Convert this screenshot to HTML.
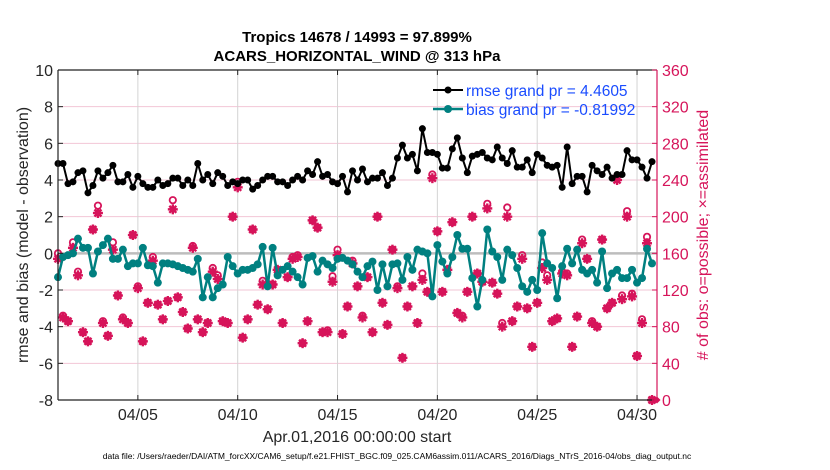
<!DOCTYPE html>
<html><head><meta charset="utf-8"><style>
body{margin:0;background:#fff;}
svg{display:block;font-family:"Liberation Sans",sans-serif;}
</style></head><body>
<svg id="chart" width="830" height="470"></svg>
<script>
const rmse=[4.9,4.9,3.8,3.9,4.4,4.5,3.3,3.7,4.5,4.1,4.4,4.8,3.9,3.9,4.3,3.6,
4.2,3.8,3.6,3.6,4.0,3.7,3.8,4.1,4.1,3.7,4.0,3.7,4.9,4.0,4.3,3.8,4.4,4.2,3.7,3.9,
3.8,4.0,4.0,3.5,3.7,4.0,4.2,4.2,3.9,3.9,3.7,
4.0,4.2,4.0,4.5,4.3,5.0,4.2,4.3,3.9,3.8,4.2,3.35,4.5,4.0,4.6,3.9,4.1,4.1,4.4,3.7,4.1,
5.2,5.9,5.2,5.4,4.5,6.8,5.5,5.5,5.4,4.65,4.65,5.7,6.3,5.2,4.4,5.3,5.4,
5.5,5.2,5.1,5.8,5.2,4.9,5.6,4.7,4.7,5.1,4.4,5.4,5.2,4.8,4.7,4.8,3.6,5.8,3.8,4.2,4.2,3.35,4.8,4.5,4.3,4.7,4.1,4.3,4.3,5.6,5.1,5.1,4.7,4.1,5.0];
const bias=[-1.3,-0.2,-0.1,0,0.8,0.3,0.3,-1.1,0.1,0.45,0.8,-0.3,-0.3,0.2,-0.7,-0.55,-0.55,0.3,-0.65,-0.7,-1.6,-0.55,-0.55,-0.6,-0.7,-0.8,-0.9,-1.0,-0.3,-2.4,-1.3,-2.4,-1.9,-1.7,-0.2,-0.7,-1.1,-0.9,-0.9,-0.8,-0.6,
0.35,-1.8,0.3,-1.2,-0.9,-0.7,-1.0,-1.3,-1.7,-0.25,-0.15,-1.0,-0.4,-0.6,-0.8,-0.3,-0.25,-0.4,-0.6,-1.0,-1.3,
-0.7,-0.45,-2.0,-0.6,-1.8,-0.6,-0.55,-1.45,-0.2,-0.9,0.2,0.1,0.0,-2.35,0.45,-0.45,-1.1,-0.2,1.0,0.25,0.25,-1.35,-2.9,-1.45,
1.3,0.1,-0.2,-1.45,0.2,-0.1,-0.8,-1.8,-2.1,-1.45,-2.0,1.1,-0.55,-0.8,-2.45,-0.7,0.25,-0.55,0.2,-0.9,-1.1,-0.9,-1.6,0.1,-1.9,-1.1,-0.9,-1.35,-1.35,-0.9,-1.6,-1.35,0.25,-0.55];
const nAssim=[154,90,86,166,136,74,64,186,204,84,70,164,114,88,84,180,122,64,106,152,104,88,108,208,112,96,78,166,88,74,84,140,132,86,84,200,232,68,88,186,104,126,99,126,142,84,134,154,
156,62,86,196,188,74,74,129,158,72,102,149,124,
90,134,74,
200,106,82,164,122,46,102,124,84,131,118,242,184,118,142,194,95,90,118,200,138,129,
209,128,116,80,200,86,102,154,100,58,106,144,131,86,89,138,136,58,91,171,154,84,80,175,100,106,240,110,200,113,48,84,171,0];
const nPoss=[160,92,86,172,140,74,64,186,212,86,70,172,114,90,84,180,124,64,106,156,104,88,108,218,112,96,78,168,88,74,84,144,136,86,84,200,238,68,88,186,104,130,99,126,142,84,134,156,
158,62,86,196,188,74,76,135,164,72,102,152,124,
92,134,74,
200,106,82,164,124,46,102,124,84,138,118,246,184,118,142,194,95,92,118,200,138,129,
214,128,116,84,210,86,102,158,100,58,106,150,136,86,89,140,138,58,91,175,154,86,80,175,100,106,244,114,206,116,48,88,178,0];
const dateTicks=["04/05","04/10","04/15","04/20","04/25","04/30"];
const dateTickDays=[4,9,14,19,24,29];
const leftTicks=[10,8,6,4,2,0,-2,-4,-6,-8];
const rightTicks=[360,320,280,240,200,160,120,80,40,0];

const NS="http://www.w3.org/2000/svg";
const svg=document.getElementById('chart');
const X0=58,X1=657,Y0=70,Y1=400,DAYS=30;
const xs=d=>X0+(X1-X0)*d/DAYS;
const yL=v=>Y0+(10-v)*(Y1-Y0)/18;
const yR=n=>Y1-n*(Y1-Y0)/360;
function el(tag,attrs,parent){const e=document.createElementNS(NS,tag);for(const k in attrs)e.setAttribute(k,attrs[k]);(parent||svg).appendChild(e);return e;}
function txt(s,attrs){const t=el('text',attrs);t.textContent=s;return t;}

const grid=el('g',{});


leftTicks.forEach(v=>{el('line',{x1:X0,x2:X1,y1:yL(v),y2:yL(v),stroke:'#f2c6d6','stroke-width':1},grid);});
dateTickDays.forEach(d=>{el('line',{x1:xs(d),x2:xs(d),y1:Y0,y2:Y1,stroke:'#d4d4d4','stroke-width':1},grid);});
const zl=el('line',{x1:X0,x2:X1,y1:yL(0),y2:yL(0),stroke:'#bdbdbd','stroke-width':2.5});



const obs=el('g',{fill:'#d6145a',stroke:'#d6145a'});


nPoss.forEach((n,i)=>{
  const c=el('circle',{cx:xs(i*0.25),cy:yR(n),r:3.2,fill:'none','stroke-width':1.8},obs);
  
  
});
nAssim.forEach((n,i)=>{
  const x=xs(i*0.25),y=yR(n),r=5;
  const g=el('g',{'stroke-width':2.4},obs);
  
  
  el('rect',{x:x-3,y:y-3,width:6,height:6,transform:`rotate(45 ${x} ${y})`,stroke:'none'},g);
  el('line',{x1:x-r,x2:x+r,y1:y,y2:y},g);
  el('line',{x1:x,x2:x,y1:y-r,y2:y+r},g);
  el('line',{x1:x-3.5,x2:x+3.5,y1:y-3.5,y2:y+3.5},g);
  el('line',{x1:x-3.5,x2:x+3.5,y1:y+3.5,y2:y-3.5},g);
});

function series(vals,color,name,lw,r){
  const g=el('g',{});
  
  
  el('polyline',{points:vals.map((v,i)=>xs(i*0.25)+','+yL(v)).join(' '),fill:'none',stroke:color,'stroke-width':lw,'stroke-linejoin':'round'},g);
  vals.forEach((v,i)=>{
    const c=el('circle',{cx:xs(i*0.25),cy:yL(v),r:r,fill:color},g);
    
    
  });
}
series(bias,'#008080','bias-series',2.5,4);
series(rmse,'#000','rmse-series',2,3.5);

const ax=el('g',{});


el('line',{x1:X0,x2:X0,y1:Y0,y2:Y1,stroke:'#222','stroke-width':1.2},ax);
el('line',{x1:X0,x2:X1,y1:Y1,y2:Y1,stroke:'#222','stroke-width':1.2},ax);
el('line',{x1:X0,x2:X1,y1:Y0,y2:Y0,stroke:'#222','stroke-width':1.2},ax);
el('line',{x1:X1,x2:X1,y1:Y0,y2:Y1,stroke:'#d6145a','stroke-width':1.2},ax);
leftTicks.forEach(v=>{
  el('line',{x1:X0,x2:X0+5,y1:yL(v),y2:yL(v),stroke:'#222'},ax);
  const t=txt(String(v),{x:53,y:yL(v)+6,'text-anchor':'end','font-size':16,fill:'#262626'});
  
  
});
rightTicks.forEach(n=>{
  el('line',{x1:X1-5,x2:X1,y1:yR(n),y2:yR(n),stroke:'#d6145a'},ax);
  const t=txt(String(n),{x:X1+5,y:yR(n)+6,'font-size':16,fill:'#d6145a'});
  
  
});
dateTicks.forEach((s,k)=>{
  const x=xs(dateTickDays[k]);
  el('line',{x1:x,x2:x,y1:Y1-5,y2:Y1,stroke:'#222'},ax);
  el('line',{x1:x,x2:x,y1:Y0,y2:Y0+5,stroke:'#222'},ax);
  const t=txt(s,{x:x,y:420,'text-anchor':'middle','font-size':16,fill:'#262626'});
  
  
});
const dm=el('rect',{x:X1-2.5,y:Y1-2.5,width:5,height:5,fill:'#d6145a',transform:`rotate(45 ${X1} ${Y1})`});


</script>
<div style="position:absolute;left:0;top:0;width:830px;height:470px;pointer-events:none;">
<svg width="830" height="470" style="position:absolute;left:0;top:0" font-family="Liberation Sans, sans-serif">
<text x="357" y="42" text-anchor="middle" font-size="15" font-weight="bold" fill="#000">Tropics 14678 / 14993 = 97.899%</text>
<text x="357" y="61" text-anchor="middle" font-size="15" font-weight="bold" fill="#000">ACARS_HORIZONTAL_WIND @ 313 hPa</text>
<text transform="translate(28,235) rotate(-90)" text-anchor="middle" font-size="16" fill="#262626">rmse and bias (model - observation)</text>
<text transform="translate(708,235) rotate(-90)" text-anchor="middle" font-size="16" fill="#d6145a"># of obs: o=possible; ×=assimilated</text>
<text x="357" y="442" text-anchor="middle" font-size="16" fill="#262626">Apr.01,2016 00:00:00 start</text>
<text x="397" y="459" text-anchor="middle" font-size="8.5" fill="#000">data file: /Users/raeder/DAI/ATM_forcXX/CAM6_setup/f.e21.FHIST_BGC.f09_025.CAM6assim.011/ACARS_2016/Diags_NTrS_2016-04/obs_diag_output.nc</text>
<g>
<line x1="433" x2="463" y1="90" y2="90" stroke="#000" stroke-width="2"/><circle cx="448" cy="90" r="3.5" fill="#000"/>
<text x="466" y="96" font-size="15.5" fill="#1a4cff">rmse grand pr = 4.4605</text>
<line x1="433" x2="463" y1="109" y2="109" stroke="#008080" stroke-width="2.5"/><circle cx="448" cy="109" r="4" fill="#008080"/>
<text x="466" y="115" font-size="15.5" fill="#1a4cff">bias grand pr = -0.81992</text>
</g>
</svg></div>
</body></html>
